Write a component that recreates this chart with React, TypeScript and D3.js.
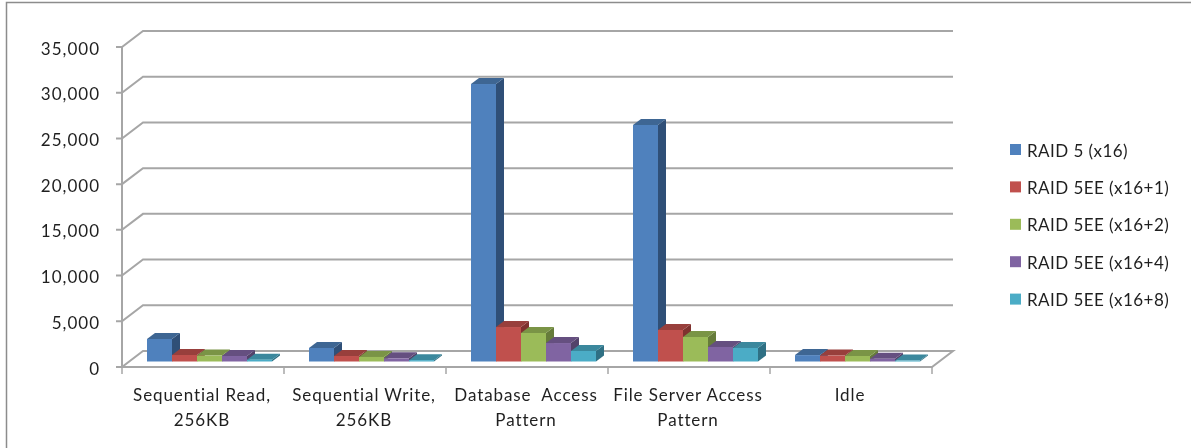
import React from "react";
import * as d3 from "d3";

const categories = [
  ["Sequential Read,", "256KB"],
  ["Sequential Write,", "256KB"],
  ["Database  Access", "Pattern"],
  ["File Server Access", "Pattern"],
  ["Idle"],
];
const seriesNames = [
  "RAID 5 (x16)",
  "RAID 5EE (x16+1)",
  "RAID 5EE (x16+2)",
  "RAID 5EE (x16+4)",
  "RAID 5EE (x16+8)",
];
const raid5 = [2460, 1480, 30350, 25870, 700];
const raid5ee1 = [710, 600, 3770, 3450, 650];
const raid5ee2 = [650, 500, 3120, 2680, 600];
const raid5ee4 = [600, 350, 2020, 1590, 300];
const raid5ee8 = [200, 150, 1150, 1480, 100];
const allSeries = [raid5, raid5ee1, raid5ee2, raid5ee4, raid5ee8];
const yTicks = [0, 5000, 10000, 15000, 20000, 25000, 30000, 35000];

// front, top, side
const colors = [
  ["#4f81bd", "#3e6693", "#2f4f77"],
  ["#c0504d", "#983f3c", "#7f322f"],
  ["#9bbb59", "#7a9446", "#667c3a"],
  ["#8064a2", "#654f80", "#53426a"],
  ["#4bacc6", "#3b889d", "#2f7084"],
];

const gridColor = "#a6a6a6";
const textColor = "#1f1f1f";
const font = "Lato, 'Open Sans', sans-serif";

export default function App() {
  const width = 1191;
  const height = 448;

  const y = d3.scaleLinear().domain([0, 35000]).range([367, 47]);
  const x0 = d3
    .scaleBand<number>()
    .domain(d3.range(categories.length))
    .range([122, 932]);
  const x1 = d3
    .scaleBand<number>()
    .domain(d3.range(seriesNames.length))
    .range([25, 150]);

  const wallDx = 21;
  const wallDy = -16;
  const floorDy = -5.5;
  const barDx = 8;
  const barDy = -6;
  const [left, right] = x0.range();

  return (
    <svg
      width={width}
      height={height}
      style={{
        position: "absolute",
        left: 0,
        top: 0,
        background: "#fff",
        filter: "blur(0.35px)", // source is a soft upscaled screenshot
      }}
    >
      <rect
        x={6.5}
        y={2.5}
        width={1250}
        height={500}
        fill="#fff"
        stroke="#8c8c8c"
        strokeWidth={1.5}
      />

      {/* gridlines, side wall and back wall */}
      {yTicks.map((t) => (
        <path
          key={t}
          d={`M${left - 6},${y(t)}H${left}L${left + wallDx},${y(t) + wallDy}H${right + wallDx}${
            t === 0 ? `L${right},${y(t)}H${left}` : ""
          }`}
          fill="none"
          stroke={gridColor}
          strokeWidth={2}
        />
      ))}
      <line
        x1={left}
        x2={left}
        y1={y(35000)}
        y2={y(0)}
        stroke={gridColor}
        strokeWidth={2}
      />
      {d3.range(categories.length + 1).map((i) => {
        const tx = left + i * x0.bandwidth();
        return (
          <line
            key={i}
            x1={tx}
            x2={tx}
            y1={y(0)}
            y2={y(0) + 7}
            stroke={gridColor}
            strokeWidth={1.5}
          />
        );
      })}

      {/* bars */}
      {categories.map((_, c) =>
        allSeries.map((values, s) => {
          const bx = x0(c)! + x1(s)!;
          const bw = x1.bandwidth();
          const base = y(0) + floorDy;
          const top = base - (y(0) - y(values[c]));
          return (
            <g key={`${c}-${s}`}>
              <path
                d={`M${bx + bw},${top}l${barDx},${barDy}V${base + barDy}L${bx + bw},${base}Z`}
                fill={colors[s][2]}
              />
              <path
                d={`M${bx},${top}l${barDx},${barDy}H${bx + bw + barDx}L${bx + bw},${top}Z`}
                fill={colors[s][1]}
              />
              <rect
                x={bx}
                y={top}
                width={bw}
                height={base - top}
                fill={colors[s][0]}
              />
            </g>
          );
        })
      )}

      {/* y axis labels */}
      {yTicks.map((t) => (
        <text
          key={t}
          x={100}
          y={y(t) + 7.5}
          textAnchor="end"
          fontFamily={font}
          fontSize={17}
          letterSpacing={1}
          fill={textColor}
        >
          {d3.format(",")(t)}
        </text>
      ))}

      {/* category labels */}
      {categories.map((lines, c) => {
        const cx = x0(c)! + x0.bandwidth() / 2 - 1;
        return (
          <text
            key={c}
            x={cx}
            textAnchor="middle"
            fontFamily={font}
            fontSize={17}
            letterSpacing={0.9}
            fill={textColor}
            style={{ whiteSpace: "pre" }}
          >
            {lines.map((line, i) => (
              <tspan key={i} x={cx} y={401 + i * 25}>
                {line}
              </tspan>
            ))}
          </text>
        );
      })}

      {/* legend */}
      {seriesNames.map((name, i) => (
        <g key={name} transform={`translate(1010,${144 + i * 37.4})`}>
          <rect width={11} height={11} fill={colors[i][0]} />
          <text
            x={17}
            y={12.5}
            fontFamily={font}
            fontSize={17}
            letterSpacing={0.45}
            fill={textColor}
          >
            {name}
          </text>
        </g>
      ))}
    </svg>
  );
}
